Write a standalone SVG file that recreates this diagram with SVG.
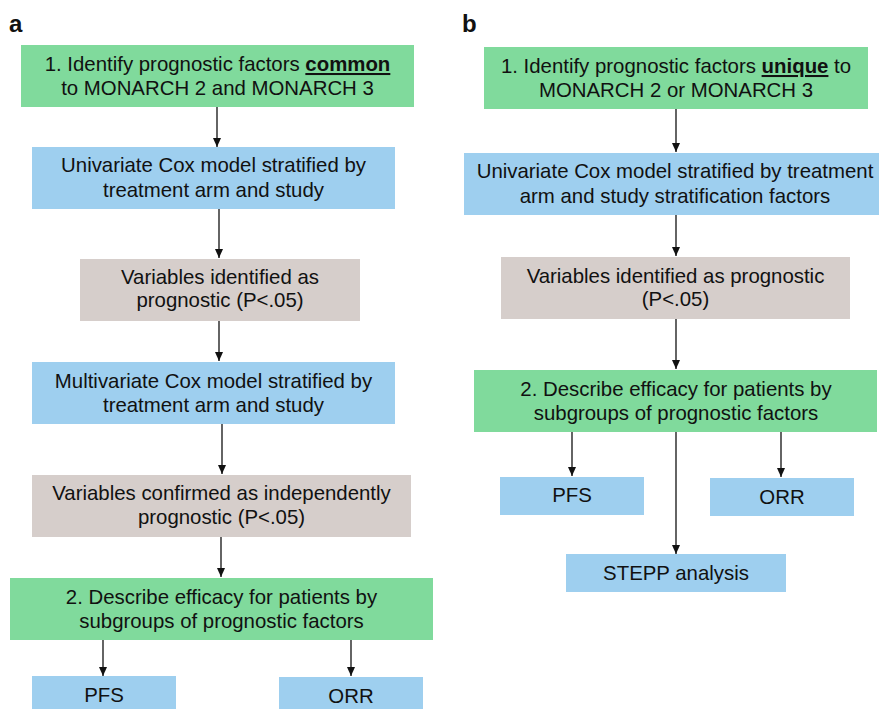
<svg xmlns="http://www.w3.org/2000/svg" width="879" height="709" viewBox="0 0 879 709">
<defs>
<marker id="ah" markerUnits="userSpaceOnUse" markerWidth="10" markerHeight="10" refX="9" refY="4" orient="auto">
<path d="M0,0 L9,4 L0,8 z" fill="#111"/>
</marker>
<style>
.g{fill:#80DA9C}
.b{fill:#9ECFEF}
.r{fill:#D6CECB}
text{font-family:"Liberation Sans",Arial,sans-serif;font-size:20.4px;fill:#111;text-anchor:middle}
.lbl{font-size:24px;font-weight:bold;text-anchor:start}
.em{font-weight:bold;text-decoration:underline}
.c line{stroke:#111;stroke-width:1.3;marker-end:url(#ah)}
</style>
</defs>
<rect width="879" height="709" fill="#fff"/>
<text class="lbl" x="9" y="32">a</text>
<text class="lbl" x="462" y="32">b</text>

<g id="a1"><rect class="g" x="21" y="45" width="393" height="62"/>
<text x="217.5" y="71">1. Identify prognostic factors <tspan class="em">common</tspan></text>
<text x="217.5" y="95">to MONARCH 2 and MONARCH 3</text></g>
<g id="a2"><rect class="b" x="32" y="147" width="363" height="62"/>
<text x="213.5" y="172">Univariate Cox model stratified by</text>
<text x="213.5" y="197">treatment arm and study</text></g>
<g id="a3"><rect class="r" x="80" y="259" width="280" height="62"/>
<text x="220" y="284">Variables identified as</text>
<text x="220" y="307">prognostic (P&lt;.05)</text></g>
<g id="a4"><rect class="b" x="32" y="362" width="363" height="62"/>
<text x="213.5" y="388">Multivariate Cox model stratified by</text>
<text x="213.5" y="412">treatment arm and study</text></g>
<g id="a5"><rect class="r" x="32" y="475" width="379" height="62"/>
<text x="221.5" y="500">Variables confirmed as independently</text>
<text x="221.5" y="524">prognostic (P&lt;.05)</text></g>
<g id="a6"><rect class="g" x="10" y="578" width="423" height="62"/>
<text x="221.5" y="604">2. Describe efficacy for patients by</text>
<text x="221.5" y="628">subgroups of prognostic factors</text></g>
<g id="a7"><rect class="b" x="32" y="676" width="144" height="33"/>
<text x="104" y="702">PFS</text></g>
<g id="a8"><rect class="b" x="279" y="677" width="144" height="32"/>
<text x="351" y="703">ORR</text></g>

<g id="b1"><rect class="g" x="484" y="47" width="384" height="62"/>
<text x="676" y="73">1. Identify prognostic factors <tspan class="em">unique</tspan> to</text>
<text x="676" y="97">MONARCH 2 or MONARCH 3</text></g>
<g id="b2"><rect class="b" x="464" y="153" width="415" height="62"/>
<text x="675" y="178">Univariate Cox model stratified by treatment</text>
<text x="675" y="203">arm and study stratification factors</text></g>
<g id="b3"><rect class="r" x="501" y="257" width="349" height="62"/>
<text x="675.5" y="283">Variables identified as prognostic</text>
<text x="675.5" y="306">(P&lt;.05)</text></g>
<g id="b4"><rect class="g" x="474" y="370" width="403" height="62"/>
<text x="676" y="396">2. Describe efficacy for patients by</text>
<text x="676" y="420">subgroups of prognostic factors</text></g>
<g id="b5"><rect class="b" x="500" y="477" width="144" height="38"/>
<text x="572" y="502">PFS</text></g>
<g id="b6"><rect class="b" x="710" y="478" width="144" height="38"/>
<text x="782" y="504">ORR</text></g>
<g id="b7"><rect class="b" x="566" y="554" width="220" height="38"/>
<text x="676" y="580">STEPP analysis</text></g>

<g class="c" id="connectors">
<line x1="217" y1="107" x2="217" y2="147"/>
<line x1="219" y1="209" x2="219" y2="258"/>
<line x1="219" y1="321" x2="219" y2="361"/>
<line x1="222" y1="424" x2="222" y2="474"/>
<line x1="221" y1="537" x2="221" y2="577"/>
<line x1="103" y1="640" x2="103" y2="676"/>
<line x1="351" y1="640" x2="351" y2="676"/>
<line x1="676" y1="109" x2="676" y2="152"/>
<line x1="676" y1="215" x2="676" y2="256"/>
<line x1="676" y1="319" x2="676" y2="369"/>
<line x1="572" y1="432" x2="572" y2="476"/>
<line x1="781" y1="432" x2="781" y2="477"/>
<line x1="676" y1="432" x2="676" y2="554"/>
</g>
</svg>
